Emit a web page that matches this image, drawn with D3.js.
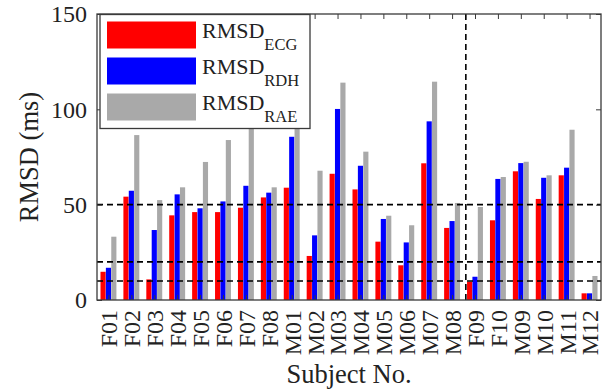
<!DOCTYPE html>
<html>
<head>
<meta charset="utf-8">
<script src="https://cdn.jsdelivr.net/npm/d3@7"></script>
<style>
  html, body { margin: 0; padding: 0; background: #fff; }
  svg { display: block; }
  svg text { font-family: "Liberation Serif", "Times New Roman", "DejaVu Serif", serif; }
</style>
</head>
<body>
<svg id="chart" width="603" height="391"></svg>
<script>
// Subjects in plotting order
const subjects = ["F01","F02","F03","F04","F05","F06","F07","F08","M01","M02","M03","M04",
                  "M05","M06","M07","M08","F09","F10","M09","M10","M11","M12"];

// RMSD per subject (ms)
const rmsdECG = [14.8, 54.2, 10.8, 44.4, 46.1, 46.1, 48.4, 53.8, 58.9, 23.1, 66.2, 58.0,
                 30.6, 18.2, 71.7, 37.8, 9.6, 41.8, 67.5, 53.0, 65.4, 3.5];
const rmsdRDH = [16.9, 57.3, 36.7, 55.4, 48.1, 51.7, 59.9, 56.3, 85.6, 33.9, 100.2, 70.4,
                 42.5, 30.2, 93.7, 41.4, 12.2, 63.5, 71.8, 64.1, 69.4, 3.5];
const rmsdRAE = [33.2, 86.5, 52.4, 59.1, 72.4, 83.9, 92.0, 59.1, 93.0, 67.8, 114.0, 77.8,
                 44.2, 39.2, 114.5, 50.9, 48.8, 64.5, 72.5, 65.4, 89.3, 12.6];

const seriesNames = ["ECG", "RDH", "RAE"];
const seriesColors = ["#ff0000", "#0000ff", "#a9a9a9"];
const yTicks = [0, 50, 100, 150];
const refLevels = [10, 20, 50];   // dashed reference levels
const groupSplit = 16.6;          // dashed divider between M08 and F09

const svg = d3.select("#chart");
const m = { left: 97, right: 2, top: 14, bottom: 91 };
const W = 603, H = 391;
const x0 = m.left, x1 = W - m.right, y0 = H - m.bottom, y1 = m.top;

const x = d3.scaleLinear().domain([0.5, subjects.length + 0.5]).range([x0, x1]);
const y = d3.scaleLinear().domain([0, 150]).range([y0, y1]);

const series = [rmsdECG, rmsdRDH, rmsdRAE];
const offsets = [-0.235, 0, 0.235];
const barW = 0.225;

// bars
series.forEach((vals, s) => {
  svg.append("g").selectAll("rect").data(vals).join("rect")
    .attr("x", (d, i) => x(i + 1 + offsets[s] - barW / 2))
    .attr("width", x(barW) - x(0))
    .attr("y", d => y(d))
    .attr("height", d => y(0) - y(d))
    .attr("fill", seriesColors[s]);
});

// dashed reference lines
svg.append("g").selectAll("line").data(refLevels).join("line")
  .attr("x1", x0).attr("x2", x1)
  .attr("y1", d => y(d)).attr("y2", d => y(d))
  .attr("stroke", "#000").attr("stroke-width", 1.6)
  .attr("stroke-dasharray", "6,4");

svg.append("line")
  .attr("x1", x(groupSplit)).attr("x2", x(groupSplit))
  .attr("y1", y1).attr("y2", y0)
  .attr("stroke", "#000").attr("stroke-width", 1.6)
  .attr("stroke-dasharray", "6,4");

// axes with inward ticks
const axisColor = "#3a3a3a";
const tickLen = 5;
const idx = subjects.map((s, i) => i + 1);

const axLeft = svg.append("g").attr("transform", `translate(${x0},0)`)
  .call(d3.axisLeft(y).tickValues(yTicks).tickSize(-tickLen).tickPadding(10));
const axRight = svg.append("g").attr("transform", `translate(${x1},0)`)
  .call(d3.axisRight(y).tickValues(yTicks).tickSize(-tickLen).tickFormat(""));
const axTop = svg.append("g").attr("transform", `translate(0,${y1})`)
  .call(d3.axisTop(x).tickValues(idx).tickSize(-tickLen).tickFormat(""));
const axBottom = svg.append("g").attr("transform", `translate(0,${y0})`)
  .call(d3.axisBottom(x).tickValues(idx).tickSize(-tickLen).tickFormat((d) => subjects[d - 1]));

[axLeft, axRight, axTop, axBottom].forEach(g => {
  g.attr("font-family", null);
  g.select(".domain").remove();
  g.selectAll(".tick line").attr("stroke", axisColor).attr("stroke-width", 1);
});

axLeft.selectAll("text")
  .attr("font-size", 24).attr("fill", "#222");

axBottom.selectAll("text")
  .attr("font-size", 24).attr("fill", "#222")
  .attr("text-anchor", "end")
  .attr("transform", "translate(0,10) rotate(-90)")
  .attr("x", 0).attr("y", 0).attr("dy", "0.35em");

// frame
svg.append("rect")
  .attr("x", x0).attr("y", y1).attr("width", x1 - x0).attr("height", y0 - y1)
  .attr("fill", "none").attr("stroke", axisColor).attr("stroke-width", 1.3);

// axis titles
svg.append("text")
  .attr("transform", `translate(38,${(y0 + y1) / 2}) rotate(-90)`)
  .attr("text-anchor", "middle").attr("font-size", 26.5).attr("fill", "#222")
  .text("RMSD (ms)");

svg.append("text")
  .attr("x", (x0 + x1) / 2).attr("y", 383)
  .attr("text-anchor", "middle").attr("font-size", 26.5).attr("fill", "#222")
  .text("Subject No.");

// legend
const lg = svg.append("g");
lg.append("rect")
  .attr("x", 100).attr("y", y1 + 0.5).attr("width", 210).attr("height", 114)
  .attr("fill", "#fff").attr("stroke", axisColor).attr("stroke-width", 1.3);

seriesNames.forEach((name, s) => {
  const cy = 35 + s * 36;
  lg.append("rect")
    .attr("x", 107).attr("y", cy - 13.5).attr("width", 89).attr("height", 27)
    .attr("fill", seriesColors[s]);
  const t = lg.append("text")
    .attr("x", 202).attr("y", cy + 2.5)
    .attr("font-size", 22).attr("fill", "#222");
  t.append("tspan").text("RMSD");
  t.append("tspan").attr("dy", 12).attr("font-size", 16.5).text(name);
});
</script>
</body>
</html>
